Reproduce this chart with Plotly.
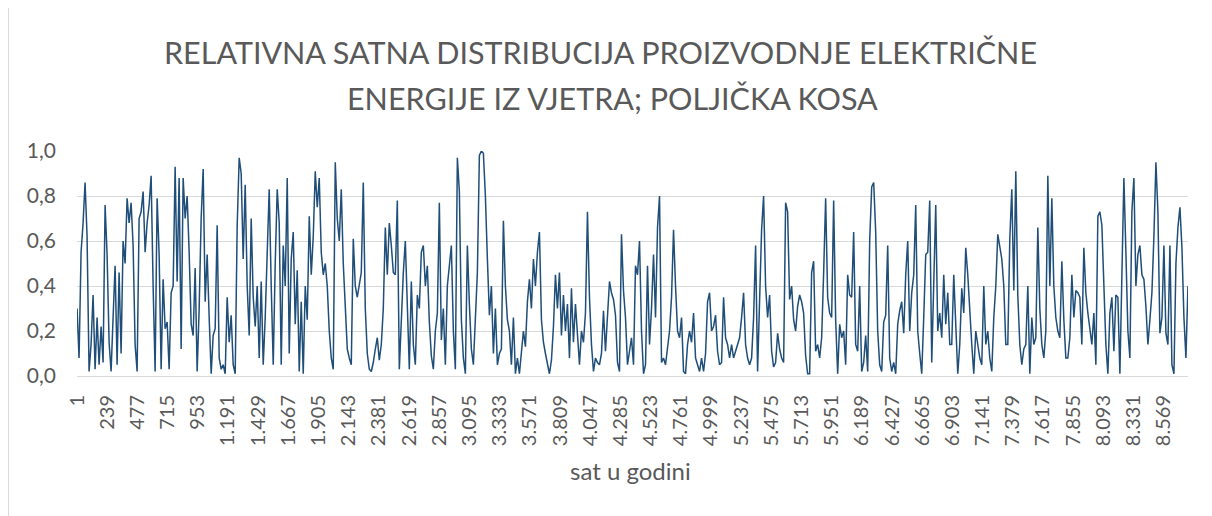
import numpy as np
import plotly.graph_objects as go

share_q1 = [0.30,0.08,0.55,0.68,0.86,0.62,0.02,0.14,0.36,0.03,0.26,0.05,0.22,0.06,0.76,0.54,0.15,0.02,0.26,0.49,
            0.05,0.46,0.10,0.60,0.50,0.79,0.68,0.77,0.58,0.14,0.02,0.70,0.73,0.82,0.55,0.68,0.76,0.89,0.40,0.02,
            0.79,0.54,0.03,0.43,0.21,0.24,0.03,0.37,
            0.40,0.93,0.42,0.88,0.12,0.88,0.70,0.80,0.55,0.23,0.18,0.48,0.02,0.30,0.70,0.92,0.33,0.54,0.26,0.01,
            0.18,0.21,0.67,0.08,0.03,0.05,0.01,0.35,0.15,0.27,0.05,0.01,0.67,0.97,0.90,0.52,0.85,0.40,0.18,0.70,
            0.35,0.22,0.40,0.08,0.42,0.05,0.26,0.58,0.83,0.40,0.05,
            0.50,0.83,0.68,0.05,0.58,0.40,0.88,0.10,0.52,0.64,0.23,0.47,0.02,0.33,0.01,0.40,0.25,0.71,0.45,0.62,
            0.91,0.75,0.88,0.55,0.45,0.50,0.40,0.20,0.08,0.03,0.95,0.70,0.60,0.83,0.50,0.30,0.12,0.08,0.05,0.61,
            0.40,0.35,0.40,0.46,0.86,0.30,0.10,0.03,0.02,0.06,0.12]
share_q2 = [0.17,0.07,0.14,0.30,0.66,0.45,0.68,0.58,0.46,0.45,0.78,0.03,0.26,0.46,0.60,0.35,0.03,0.42,0.14,0.05,
            0.36,0.30,0.55,0.58,0.40,0.49,0.24,0.09,0.03,0.20,0.28,0.77,0.16,0.30,0.05,0.40,0.51,0.58,0.20,0.03,
            0.97,0.82,0.25,0.08,0.01,0.58,0.32,0.12,0.05,0.30,0.46,
            0.98,1.00,0.99,0.80,0.52,0.27,0.40,0.10,0.30,0.05,0.10,0.12,0.69,0.40,0.25,0.20,0.05,0.26,0.01,0.08,
            0.01,0.10,0.20,0.13,0.33,0.43,0.30,0.52,0.40,0.55,0.64,0.25,0.15,0.10,0.05,0.01,0.07,0.22,0.45,0.30,
            0.46,0.18,0.36,0.20,0.32,0.08,0.39,0.15,0.32,0.20,0.05]
share_q3 = [0.20,0.15,0.28,0.73,0.35,0.14,0.02,0.08,0.06,0.05,0.10,0.29,0.11,0.26,0.42,0.37,0.34,0.27,0.06,0.02,
            0.63,0.38,0.26,0.05,0.11,0.17,0.05,0.49,0.45,0.60,0.20,0.01,0.05,0.49,0.14,0.30,0.54,0.26,0.66,0.80,
            0.06,0.08,0.05,0.14,0.20,0.35,0.65,0.40,0.20,0.17,0.26,
            0.02,0.01,0.14,0.20,0.15,0.28,0.08,0.05,0.02,0.08,0.02,0.10,0.33,0.37,0.20,0.22,0.27,0.11,0.05,0.06,
            0.35,0.17,0.14,0.08,0.14,0.08,0.11,0.14,0.17,0.26,0.37,0.14,0.08,0.05,0.08,0.26,0.58,0.02,0.30,0.65,
            0.80,0.40,0.26,0.36,0.11,0.04,0.06,0.19,0.12,0.08,0.06,
            0.77,0.73,0.34,0.40,0.25,0.20,0.31,0.36,0.33,0.28,0.09,0.01,0.01,0.46,0.51,0.11,0.14,0.08,0.17,0.46,
            0.79,0.35,0.28,0.26,0.78,0.25,0.01,0.23,0.17,0.20,0.05,0.45,0.36,0.35,0.64,0.14,0.11,0.40,0.02,0.06,
            0.18,0.02,0.60,0.84,0.86,0.64,0.20,0.05,0.02,0.24,0.27]
share_q4 = [0.58,0.08,0.02,0.06,0.01,0.23,0.29,0.33,0.19,0.45,0.60,0.20,0.37,0.45,0.76,0.20,0.10,0.01,0.26,0.54,
            0.55,0.78,0.06,0.44,0.76,0.20,0.28,0.17,0.45,0.23,0.37,0.14,0.14,0.45,0.20,0.01,0.14,0.39,0.28,0.57,
            0.45,0.28,0.14,0.01,0.20,0.14,0.08,0.05,0.40,0.14,0.20,
            0.08,0.02,0.26,0.40,0.63,0.57,0.52,0.40,0.14,0.14,0.61,0.83,0.38,0.91,0.36,0.14,0.05,0.12,0.14,0.40,
            0.01,0.26,0.14,0.17,0.66,0.30,0.14,0.08,0.20,0.89,0.40,0.79,0.40,0.26,0.20,0.17,0.51,0.25,0.08,0.08,
            0.17,0.45,0.26,0.38,0.37,0.35,0.14,0.57,0.37,0.28,0.20,
            0.14,0.28,0.05,0.71,0.73,0.67,0.40,0.14,0.01,0.28,0.35,0.11,0.36,0.35,0.01,0.43,0.88,0.55,0.20,0.08,
            0.73,0.88,0.40,0.54,0.58,0.45,0.43,0.31,0.14,0.25,0.37,0.62,0.95,0.73,0.19,0.26,0.58,0.19,0.14,0.58,
            0.05,0.01,0.50,0.66,0.75,0.57,0.26,0.08,0.40]

values = share_q1 + share_q2 + share_q3 + share_q4
hours = np.linspace(1, 8760, len(values))

tick_hours = [1, 239, 477, 715, 953, 1191, 1429, 1667, 1905, 2143, 2381, 2619, 2857, 3095, 3333, 3571,
              3809, 4047, 4285, 4523, 4761, 4999, 5237, 5475, 5713, 5951, 6189, 6427, 6665, 6903, 7141,
              7379, 7617, 7855, 8093, 8331, 8569]
tick_labels = ["1", "239", "477", "715", "953", "1.191", "1.429", "1.667", "1.905", "2.143", "2.381", "2.619",
               "2.857", "3.095", "3.333", "3.571", "3.809", "4.047", "4.285", "4.523", "4.761", "4.999", "5.237",
               "5.475", "5.713", "5.951", "6.189", "6.427", "6.665", "6.903", "7.141", "7.379", "7.617", "7.855",
               "8.093", "8.331", "8.569"]

title_line1 = "RELATIVNA SATNA DISTRIBUCIJA PROIZVODNJE ELEKTRIČNE"
title_line2 = "ENERGIJE IZ VJETRA; POLJIČKA KOSA"
x_title = "sat u godini"

FONT = "Lato"
GREY = "#595959"

# page offset: the html body has an 8 px margin, so the figure starts at page (8, 8)
fig = go.Figure()
fig.add_trace(go.Scatter(x=hours, y=values, mode="lines",
                         line=dict(color="#1F4E79", width=1.5), hoverinfo="skip"))

fig.update_layout(
    width=1204, height=508,
    margin=dict(l=69, r=24, t=143, b=140),
    paper_bgcolor="white", plot_bgcolor="white",
    separators=",.",
    showlegend=False,
    font=dict(family=FONT, color=GREY),
    xaxis=dict(range=[0.5, 8760.5], tickmode="array", tickvals=tick_hours, ticktext=tick_labels,
               tickangle=-90, showgrid=False, zeroline=False, showline=True, linecolor="#d9d9d9",
               ticks="", tickfont=dict(size=20, color=GREY, family=FONT), ticklabelstandoff=10),
    yaxis=dict(range=[0, 1.0], dtick=0.2, tick0=0, tickformat=".1f", showgrid=True,
               gridcolor="#d9d9d9", gridwidth=1, zeroline=False, showline=False, ticks="",
               tickfont=dict(size=21, color=GREY, family=FONT), ticklabelstandoff=20),
)

# pixel -> paper helpers (page coordinates; plot area spans x 77..1188, y 151..376)
def px(x):
    return (x - 77) / 1111

def py(y):
    return (376 - y) / 225

fig.add_annotation(text=title_line1, xref="paper", yref="paper", x=px(600), y=py(52),
                   showarrow=False, xanchor="center", yanchor="middle",
                   font=dict(size=30.5, color=GREY, family=FONT))
fig.add_annotation(text=title_line2, xref="paper", yref="paper", x=px(612), y=py(98),
                   showarrow=False, xanchor="center", yanchor="middle",
                   font=dict(size=30.5, color=GREY, family=FONT))
fig.add_annotation(text=x_title, xref="paper", yref="paper", x=px(630), y=py(470),
                   showarrow=False, xanchor="center", yanchor="middle",
                   font=dict(size=24, color=GREY, family=FONT))

# chart-area border (only the vertical sides are inside the captured window)
for xb in (8.5, 1205):
    fig.add_shape(type="line", xref="paper", yref="paper",
                  x0=px(xb), x1=px(xb), y0=py(516), y1=py(8),
                  line=dict(color="#d9d9d9", width=1), layer="below")

fig.write_html("out.html")
